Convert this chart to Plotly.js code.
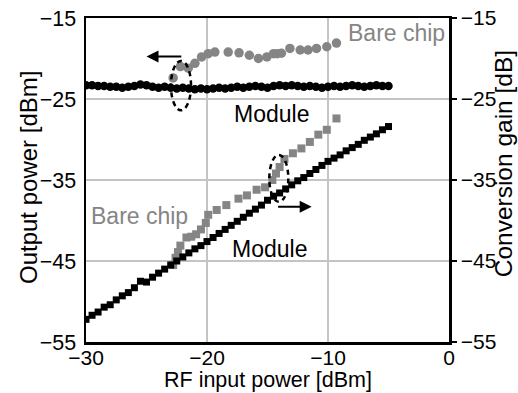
<!DOCTYPE html>
<html>
<head>
<meta charset="utf-8">
<script src="https://cdn.plot.ly/plotly-3.0.1.min.js"></script>
<style>html,body{margin:0;padding:0;background:#fff;}#chart{width:518px;height:393px;}</style>
</head>
<body>
<div id="chart"></div>
<script>
// RF input power [dBm] for module (0.5 dB steps)
const moduleInput = [-30,-29.5,-29,-28.5,-28,-27.5,-27,-26.5,-26,-25.5,-25,-24.5,-24,-23.5,-23,-22.5,-22,-21.5,-21,-20.5,-20,-19.5,-19,-18.5,-18,-17.5,-17,-16.5,-16,-15.5,-15,-14.5,-14,-13.5,-13,-12.5,-12,-11.5,-11,-10.5,-10,-9.5,-9,-8.5,-8,-7.5,-7,-6.5,-6,-5.5,-5];
// Module conversion gain [dB]
const moduleGain = [-23.3,-23.3,-23.4,-23.4,-23.5,-23.5,-23.6,-23.5,-23.4,-23.2,-23.3,-23.5,-23.6,-23.5,-23.6,-23.7,-23.6,-23.7,-23.8,-23.7,-23.8,-23.7,-23.6,-23.7,-23.6,-23.5,-23.6,-23.5,-23.4,-23.5,-23.6,-23.4,-23.3,-23.4,-23.3,-23.4,-23.5,-23.4,-23.5,-23.6,-23.5,-23.4,-23.5,-23.4,-23.3,-23.4,-23.5,-23.4,-23.3,-23.4,-23.4];
// Module output power [dBm]
const moduleOutput = [-52.2,-51.7,-51.3,-50.7,-50.4,-49.8,-49.3,-48.9,-48.3,-47.5,-47.6,-47.0,-46.5,-46.0,-45.5,-45.0,-44.5,-44.0,-43.5,-43.1,-42.6,-42.1,-41.6,-41.1,-40.6,-40.1,-39.6,-39.1,-38.6,-38.1,-37.5,-37.0,-36.6,-36.1,-35.6,-35.1,-34.7,-34.2,-33.7,-33.2,-32.7,-32.3,-31.9,-31.4,-31.0,-30.6,-30.1,-29.7,-29.3,-28.8,-28.4];
// Bare chip conversion gain
const bareGainInput = [-22.8,-22.2,-21.55,-21.0,-20.45,-19.9,-19.35,-18.25,-17.35,-16.5,-15.75,-15.05,-14.5,-14.2,-13.85,-13.15,-12.3,-11.65,-10.95,-10.1,-9.3];
const bareGain = [-22.4,-21.0,-21.2,-20.6,-19.8,-19.4,-19.2,-19.2,-19.3,-19.6,-20.0,-19.8,-19.4,-19.4,-19.35,-18.75,-18.95,-18.95,-18.75,-18.55,-18.1];
// Bare chip output power
const bareOutInput = [-22.8,-22.6,-22.4,-22.2,-21.7,-21.3,-20.9,-20.5,-20.1,-19.9,-19.2,-18.4,-17.4,-16.7,-15.9,-15.2,-14.6,-14.3,-14.0,-13.6,-12.9,-12.2,-11.5,-10.8,-10.1,-9.3];
const bareOutput = [-45.5,-44.6,-43.9,-43.1,-42.1,-42.0,-41.7,-41.1,-40.3,-39.3,-38.7,-38.1,-37.3,-36.9,-36.2,-35.9,-35.0,-34.2,-33.4,-32.4,-31.7,-31.1,-30.3,-29.4,-28.8,-27.4];

const xTicks = [-30,-20,-10,0];
const yTicks = [-55,-45,-35,-25,-15];
const yTickText = ['\u221255','\u221245','\u221235','\u221225','\u221215'];
const xTickText = ['\u221230','\u221220','\u221210','0'];

const FONT = 'Liberation Sans, Arial, Helvetica, sans-serif';
const GRAY = '#858585';

const traces = [
  {x: bareOutInput, y: bareOutput, mode:'markers', yaxis:'y2', marker:{symbol:'square', size:8, color:GRAY}, hoverinfo:'none'},
  {x: moduleInput, y: moduleOutput, mode:'markers', yaxis:'y2', marker:{symbol:'square', size:7, color:'#000'}, hoverinfo:'none'},
  {x: bareGainInput, y: bareGain, mode:'markers', marker:{symbol:'circle', size:9.5, color:GRAY}, hoverinfo:'none'},
  {x: moduleInput, y: moduleGain, mode:'markers', marker:{symbol:'circle', size:8.5, color:'#000'}, hoverinfo:'none'}
];

const layout = {
  width:518, height:393,
  margin:{l:86, r:69, t:18, b:51},
  paper_bgcolor:'#fff', plot_bgcolor:'#fff',
  showlegend:false,
  font:{family:FONT, size:21, color:'#000'},
  xaxis:{range:[-30,0], tickvals:xTicks, ticktext:xTickText, ticks:'', ticklen:0, ticklabelstandoff:-5, showgrid:true, gridcolor:'#c4c4c4', gridwidth:1.5,
         showline:true, linecolor:'#000', linewidth:2.5, mirror:true, zeroline:false,
         tickfont:{family:FONT, size:21}},
  yaxis:{range:[-55,-15], tickvals:yTicks, ticktext:yTickText, ticks:'', showgrid:true, gridcolor:'#c4c4c4', gridwidth:1.5,
         showline:true, linecolor:'#000', linewidth:2.5, zeroline:false, ticklabelstandoff:3,
         tickfont:{family:FONT, size:21.5}},
  yaxis2:{range:[-55,-15], tickvals:yTicks, ticktext:yTickText, overlaying:'y', side:'right', ticks:'outside', ticklen:5, tickwidth:2, tickcolor:'#000',
          showgrid:false, showline:true, linecolor:'#000', linewidth:2.5, zeroline:false,
          tickfont:{family:FONT, size:21}},
  shapes:[
    {type:'circle', xref:'x', yref:'y', x0:-22.98, x1:-21.32, y0:-26.4, y1:-20.3, line:{color:'#000', width:2.5, dash:'5px,4px'}},
    {type:'circle', xref:'x', yref:'y', x0:-14.85, x1:-13.28, y0:-37.7, y1:-31.9, line:{color:'#000', width:2.5, dash:'5px,4px'}}
  ],
  annotations:[
    {x:-25.0, y:-19.75, ax:-22.0, ay:-19.75, xref:'x', yref:'y', axref:'x', ayref:'y', text:'', showarrow:true, arrowhead:2, arrowsize:1.2, arrowwidth:2, arrowcolor:'#000'},
    {x:-11.35, y:-38.3, ax:-14.25, ay:-38.3, xref:'x', yref:'y', axref:'x', ayref:'y', text:'', showarrow:true, arrowhead:2, arrowsize:1.2, arrowwidth:2, arrowcolor:'#000'},
    {x:-4.3, y:-16.85, xref:'x', yref:'y', text:'Bare chip', showarrow:false, xanchor:'center', yanchor:'middle', font:{family:FONT, size:23, color:GRAY}},
    {x:-14.7, y:-26.85, xref:'x', yref:'y', text:'Module', showarrow:false, xanchor:'center', yanchor:'middle', font:{family:FONT, size:23, color:'#000'}},
    {x:-25.55, y:-39.45, xref:'x', yref:'y', text:'Bare chip', showarrow:false, xanchor:'center', yanchor:'middle', font:{family:FONT, size:23, color:GRAY}},
    {x:-14.8, y:-43.5, xref:'x', yref:'y', text:'Module', showarrow:false, xanchor:'center', yanchor:'middle', font:{family:FONT, size:23, color:'#000'}},
    // axis titles
    {x:0.5, y:-0.1574, xref:'paper', yref:'paper', text:'RF input power [dBm]', showarrow:false, xanchor:'center', yanchor:'bottom', borderpad:0, font:{family:FONT, size:21.5, color:'#000'}},
    {x:-0.16, y:0.509, xref:'paper', yref:'paper', text:'Output power [dBm]', textangle:-90, showarrow:false, xanchor:'center', yanchor:'middle', borderpad:0, font:{family:FONT, size:24, color:'#000'}},
    {x:1.1901, y:0.55, xref:'paper', yref:'paper', text:'Conversion gain [dB]', textangle:-90, showarrow:false, xanchor:'right', yanchor:'middle', borderpad:0, font:{family:FONT, size:24.5, color:'#000'}}
  ]
};

Plotly.newPlot('chart', traces, layout, {displayModeBar:false, staticPlot:true});
</script>
</body>
</html>
